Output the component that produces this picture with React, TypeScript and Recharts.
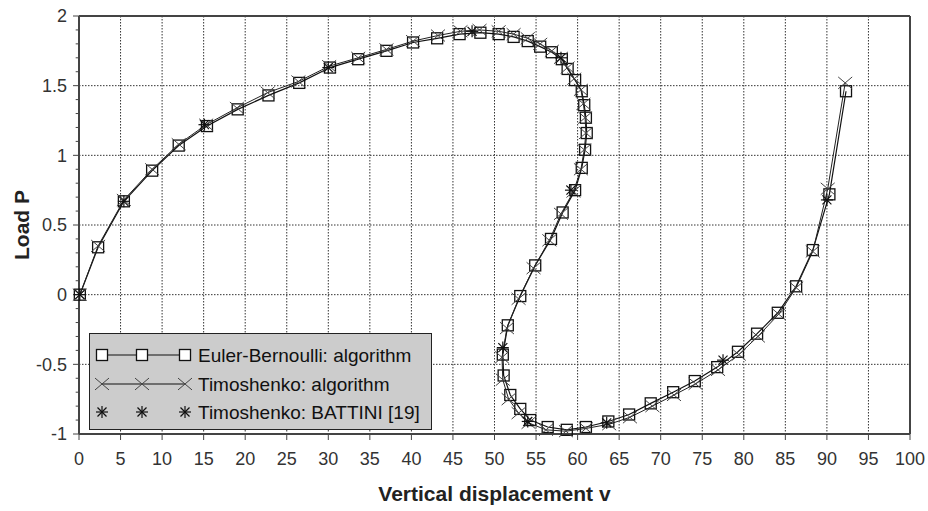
import React from 'react';
import { ScatterChart, Scatter, XAxis, YAxis, CartesianGrid, ReferenceLine, Legend } from 'recharts';

const ebX = [0.1, 2.3, 5.4, 8.8, 12.0, 15.4, 19.1, 22.8, 26.5, 30.2, 33.6, 37.0, 40.2, 43.1, 45.8, 48.3, 50.5, 52.3, 54.0, 55.5, 56.9, 58.1, 58.8, 59.7, 60.5, 60.8, 61.0, 61.1, 60.9, 60.5, 59.7, 58.2, 56.8, 54.9, 53.1, 51.6, 51.0, 51.1, 51.9, 53.1, 54.3, 56.4, 58.7, 61.0, 63.7, 66.2, 68.8, 71.5, 74.1, 76.8, 79.3, 81.6, 84.1, 86.3, 88.3, 90.3, 92.3];
const ebY = [0.0, 0.34, 0.67, 0.89, 1.07, 1.21, 1.33, 1.43, 1.52, 1.63, 1.69, 1.75, 1.81, 1.84, 1.87, 1.88, 1.87, 1.85, 1.82, 1.78, 1.74, 1.69, 1.62, 1.54, 1.46, 1.36, 1.27, 1.16, 1.04, 0.91, 0.75, 0.59, 0.40, 0.21, -0.01, -0.22, -0.43, -0.58, -0.72, -0.82, -0.90, -0.95, -0.97, -0.95, -0.91, -0.86, -0.78, -0.70, -0.62, -0.52, -0.41, -0.28, -0.13, 0.06, 0.32, 0.72, 1.46];

const tmX = [0.1, 2.3, 5.4, 8.8, 12.0, 15.3, 19.0, 22.7, 26.4, 30.1, 33.6, 37.0, 40.2, 43.2, 45.9, 48.2, 50.5, 52.3, 54.0, 55.5, 56.9, 58.0, 58.8, 59.6, 60.4, 60.7, 60.9, 61.0, 60.8, 60.4, 59.5, 58.0, 56.6, 54.7, 52.9, 51.5, 50.9, 51.0, 51.7, 52.9, 54.1, 56.2, 58.6, 61.0, 63.8, 66.3, 69.0, 71.6, 74.2, 76.9, 79.4, 81.7, 84.2, 86.3, 88.3, 90.1, 92.2];
const tmY = [0.0, 0.35, 0.68, 0.90, 1.08, 1.22, 1.34, 1.45, 1.53, 1.64, 1.70, 1.76, 1.82, 1.86, 1.89, 1.90, 1.89, 1.87, 1.84, 1.80, 1.75, 1.70, 1.63, 1.55, 1.47, 1.37, 1.27, 1.16, 1.04, 0.90, 0.74, 0.58, 0.39, 0.19, -0.03, -0.24, -0.45, -0.61, -0.75, -0.85, -0.92, -0.97, -0.98, -0.96, -0.93, -0.88, -0.80, -0.72, -0.64, -0.54, -0.43, -0.30, -0.14, 0.05, 0.31, 0.76, 1.52];

const btX = [0.1, 5.4, 15.1, 30.0, 47.3, 58.0, 59.2, 51.0, 54.0, 63.5, 77.5, 90.0];
const btY = [0.0, 0.67, 1.22, 1.63, 1.89, 1.70, 0.75, -0.38, -0.91, -0.92, -0.47, 0.68];

const seriesNames = ['Euler-Bernoulli: algorithm', 'Timoshenko: algorithm', 'Timoshenko: BATTINI [19]'];
const xTicks = [0, 5, 10, 15, 20, 25, 30, 35, 40, 45, 50, 55, 60, 65, 70, 75, 80, 85, 90, 95, 100];
const yTicks = [-1, -0.5, 0, 0.5, 1, 1.5, 2];
const yMinorTicks = [-0.9, -0.8, -0.7, -0.6, -0.4, -0.3, -0.2, -0.1, 0.1, 0.2, 0.3, 0.4, 0.6, 0.7, 0.8, 0.9, 1.1, 1.2, 1.3, 1.4, 1.6, 1.7, 1.8, 1.9];
const xTitle = 'Vertical displacement v';
const yTitle = 'Load P';

const ebData = ebX.map((x, i) => ({ x, y: ebY[i] }));
const tmData = tmX.map((x, i) => ({ x, y: tmY[i] }));
const btData = btX.map((x, i) => ({ x, y: btY[i] }));

const FONT = '"Liberation Sans", Arial, sans-serif';

const SquareMark = (p: any) => {
  const { cx, cy, fill } = p;
  if (cx == null || cy == null) return null;
  return <rect x={cx - 5.5} y={cy - 5.5} width={11} height={11} fill={fill || 'none'} stroke="#111" strokeWidth={1.3} />;
};

const CrossMark = (p: any) => {
  const { cx, cy } = p;
  if (cx == null || cy == null) return null;
  const s = 7;
  return (
    <g stroke="#444" strokeWidth={1}>
      <line x1={cx - s} y1={cy - s * 0.85} x2={cx + s} y2={cy + s * 0.85} />
      <line x1={cx - s} y1={cy + s * 0.85} x2={cx + s} y2={cy - s * 0.85} />
    </g>
  );
};

const StarMark = (p: any) => {
  const { cx, cy } = p;
  if (cx == null || cy == null) return null;
  const s = 6;
  const d = 4.5;
  return (
    <g stroke="#111" strokeWidth={1.2}>
      <line x1={cx} y1={cy - s} x2={cx} y2={cy + s} />
      <line x1={cx - s} y1={cy} x2={cx + s} y2={cy} />
      <line x1={cx - d} y1={cy - d} x2={cx + d} y2={cy + d} />
      <line x1={cx - d} y1={cy + d} x2={cx + d} y2={cy - d} />
    </g>
  );
};

const LegendBox = () => {
  const rows = [21, 50, 78];
  const xs = [12, 52, 95];
  return (
    <div style={{ width: 343, height: 97, background: '#cccccc', border: '1px solid #222', boxSizing: 'border-box' }}>
      <svg width={341} height={95} style={{ display: 'block' }}>
        <line x1={xs[0]} y1={rows[0]} x2={xs[2]} y2={rows[0]} stroke="#111" strokeWidth={1.2} />
        {xs.map((x) => <SquareMark key={'s' + x} cx={x} cy={rows[0]} fill="#fff" />)}
        <line x1={xs[0]} y1={rows[1]} x2={xs[2]} y2={rows[1]} stroke="#111" strokeWidth={1.2} />
        {xs.map((x) => <CrossMark key={'c' + x} cx={x} cy={rows[1]} />)}
        {xs.map((x) => <StarMark key={'t' + x} cx={x} cy={rows[2]} />)}
        {seriesNames.map((n, i) => (
          <text key={n} x={108} y={rows[i]} dominantBaseline="central" fontSize={19} fill="#111" fontFamily={FONT}>{n}</text>
        ))}
      </svg>
    </div>
  );
};

export default function App() {
  return (
    <div style={{ width: 928, height: 511, fontFamily: FONT, background: '#fff' }}>
      <style>{'body{margin:0;background:#fff}'}</style>
      <ScatterChart width={928} height={511} margin={{ top: 16, right: 18, bottom: 17, left: 0 }}>
        <CartesianGrid stroke="#333" strokeDasharray="1.5 1.5" strokeWidth={1} />
        <XAxis
          type="number"
          dataKey="x"
          domain={[0, 100]}
          ticks={xTicks}
          interval={0}
          height={60}
          tickSize={6}
          tickMargin={12}
          axisLine={{ stroke: '#444', strokeWidth: 2 }}
          tickLine={{ stroke: '#444' }}
          tick={{ fontSize: 18, fill: '#333', fontFamily: FONT }}
          label={{
            content: (props: any) => {
              const vb = props.viewBox || {};
              return (
                <text x={vb.x + vb.width / 2} y={vb.y + 59} textAnchor="middle" dominantBaseline="central" fontSize={21} fontWeight="bold" fill="#222" fontFamily={FONT}>{xTitle}</text>
              );
            },
          }}
        />
        <YAxis
          type="number"
          dataKey="y"
          domain={[-1, 2]}
          ticks={yTicks}
          interval={0}
          width={79}
          tickSize={6}
          tickMargin={6}
          axisLine={{ stroke: '#444', strokeWidth: 2 }}
          tickLine={{ stroke: '#444' }}
          tick={{ fontSize: 18, fill: '#333', fontFamily: FONT }}
          label={{
            content: (props: any) => {
              const vb = props.viewBox || {};
              const x = vb.x + 21;
              const y = vb.y + vb.height / 2;
              return (
                <text x={x} y={y} transform={`rotate(-90 ${x} ${y})`} textAnchor="middle" dominantBaseline="central" fontSize={21} fontWeight="bold" fill="#222" fontFamily={FONT}>{yTitle}</text>
              );
            },
          }}
        />
        {yMinorTicks.map((v) => (
          <ReferenceLine key={'m' + v} segment={[{ x: -0.4, y: v }, { x: 0, y: v }]} ifOverflow="visible" stroke="#444" strokeWidth={1} />
        ))}
        <ReferenceLine y={2} stroke="#444" strokeWidth={2} />
        <ReferenceLine x={100} stroke="#444" strokeWidth={2} />
        <Scatter name={seriesNames[0]} data={ebData} line={{ stroke: '#111', strokeWidth: 1.2 }} lineType="joint" shape={SquareMark} isAnimationActive={false} />
        <Scatter name={seriesNames[1]} data={tmData} line={{ stroke: '#222', strokeWidth: 1 }} lineType="joint" shape={CrossMark} isAnimationActive={false} />
        <Scatter name={seriesNames[2]} data={btData} shape={StarMark} isAnimationActive={false} />
        <Legend
          layout="vertical"
          align="center"
          verticalAlign="middle"
          content={() => <LegendBox />}
          wrapperStyle={{ left: 89, top: 333, width: 343, height: 97 }}
        />
      </ScatterChart>
    </div>
  );
}
